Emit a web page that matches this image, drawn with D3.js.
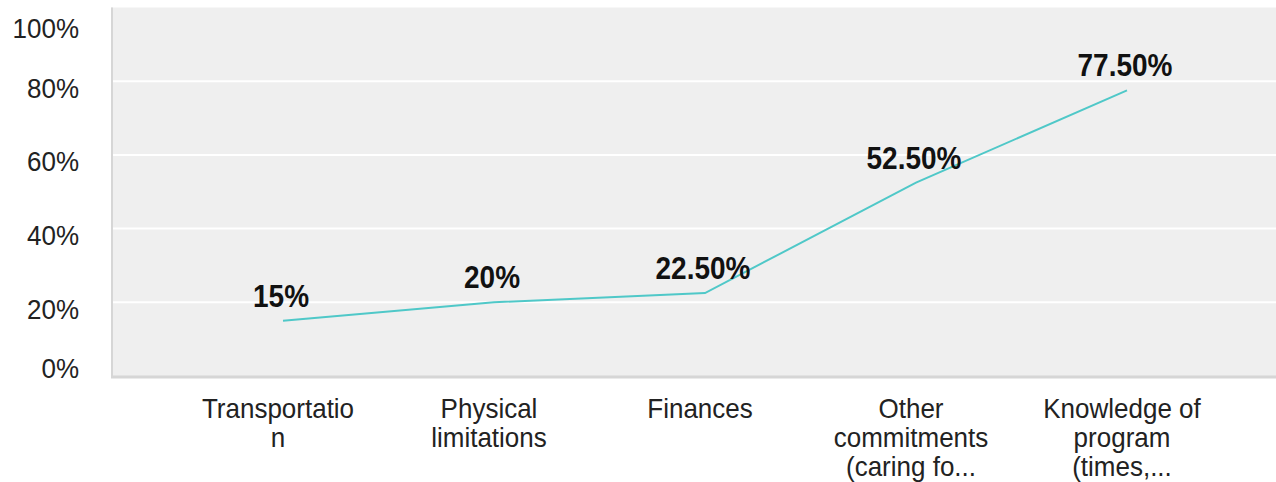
<!DOCTYPE html>
<html>
<head>
<meta charset="utf-8">
<script src="https://cdn.jsdelivr.net/npm/d3@7"></script>
<style>
  html, body { margin: 0; padding: 0; background: #fff; }
  svg { display: block; font-family: "Liberation Sans", Arial, sans-serif; }
</style>
</head>
<body>
<svg id="chart" width="1276" height="482"></svg>
<script>
// Barriers to attending the program (share of respondents)
const categories = [
  ["Transportatio", "n"],
  ["Physical", "limitations"],
  ["Finances"],
  ["Other", "commitments", "(caring fo..."],
  ["Knowledge of", "program", "(times,..."]
];
const values = [15, 20, 22.5, 52.5, 77.5];
const valueLabels = ["15%", "20%", "22.50%", "52.50%", "77.50%"];
const yTicks = [0, 20, 40, 60, 80, 100];
const yTickLabels = ["0%", "20%", "40%", "60%", "80%", "100%"];

const svg = d3.select("#chart");
const plot = { left: 111, right: 1276, top: 7.5, bottom: 376 };
const textStretch = 1.08;   // slightly tall glyphs
const valueStretch = 1.12;

const x = d3.scalePoint()
  .domain(d3.range(categories.length))
  .range([283, 1127]);
const y = d3.scaleLinear().domain([0, 100]).range([plot.bottom, plot.top]);

// plot background
svg.append("rect")
  .attr("x", plot.left).attr("y", plot.top)
  .attr("width", plot.right - plot.left)
  .attr("height", plot.bottom - plot.top + 2)
  .attr("fill", "#efefef");

// horizontal gridlines
svg.append("g")
  .selectAll("line")
  .data(yTicks.filter(d => d > 0 && d < 100))
  .join("line")
  .attr("x1", plot.left).attr("x2", plot.right)
  .attr("y1", d => y(d)).attr("y2", d => y(d))
  .attr("stroke", "#ffffff").attr("stroke-width", 2);

// axis borders
svg.append("line")
  .attr("x1", plot.left + 1).attr("x2", plot.left + 1)
  .attr("y1", plot.top).attr("y2", plot.bottom + 2)
  .attr("stroke", "#d6d6d6").attr("stroke-width", 2);
svg.append("line")
  .attr("x1", plot.left).attr("x2", plot.right)
  .attr("y1", plot.bottom + 1).attr("y2", plot.bottom + 1)
  .attr("stroke", "#d6d6d6").attr("stroke-width", 3);

// y tick labels, kept inside the plot height
svg.append("g")
  .selectAll("text")
  .data(yTicks)
  .join("text")
  .attr("transform", d =>
    `translate(79,${Math.max(29, Math.min(369, y(d) + 7))}) scale(1,${textStretch})`)
  .attr("text-anchor", "end")
  .attr("dominant-baseline", "central")
  .attr("font-size", 26)
  .attr("fill", "#222")
  .text((d, i) => yTickLabels[i]);

// category labels
const cat = svg.append("g")
  .selectAll("g")
  .data(categories)
  .join("g")
  .attr("transform", (d, i) => `translate(${x(i) - 5},0)`);
cat.selectAll("text")
  .data(lines => lines)
  .join("text")
  .attr("transform", (d, j) => `translate(0,${409 + j * 29}) scale(1,${textStretch})`)
  .attr("text-anchor", "middle")
  .attr("dominant-baseline", "central")
  .attr("font-size", 26)
  .attr("fill", "#222")
  .text(d => d);

// series line
const line = d3.line()
  .x((d, i) => x(i))
  .y(d => y(d));
svg.append("path")
  .datum(values)
  .attr("d", line)
  .attr("fill", "none")
  .attr("stroke", "#4fc8c8")
  .attr("stroke-width", 2);

// value labels
svg.append("g")
  .selectAll("text")
  .data(values)
  .join("text")
  .attr("transform", (d, i) => `translate(${x(i) - 2},${y(d) - 25}) scale(1,${valueStretch})`)
  .attr("text-anchor", "middle")
  .attr("dominant-baseline", "central")
  .attr("font-size", 28)
  .attr("font-weight", "bold")
  .attr("fill", "#111")
  .text((d, i) => valueLabels[i]);
</script>
</body>
</html>
